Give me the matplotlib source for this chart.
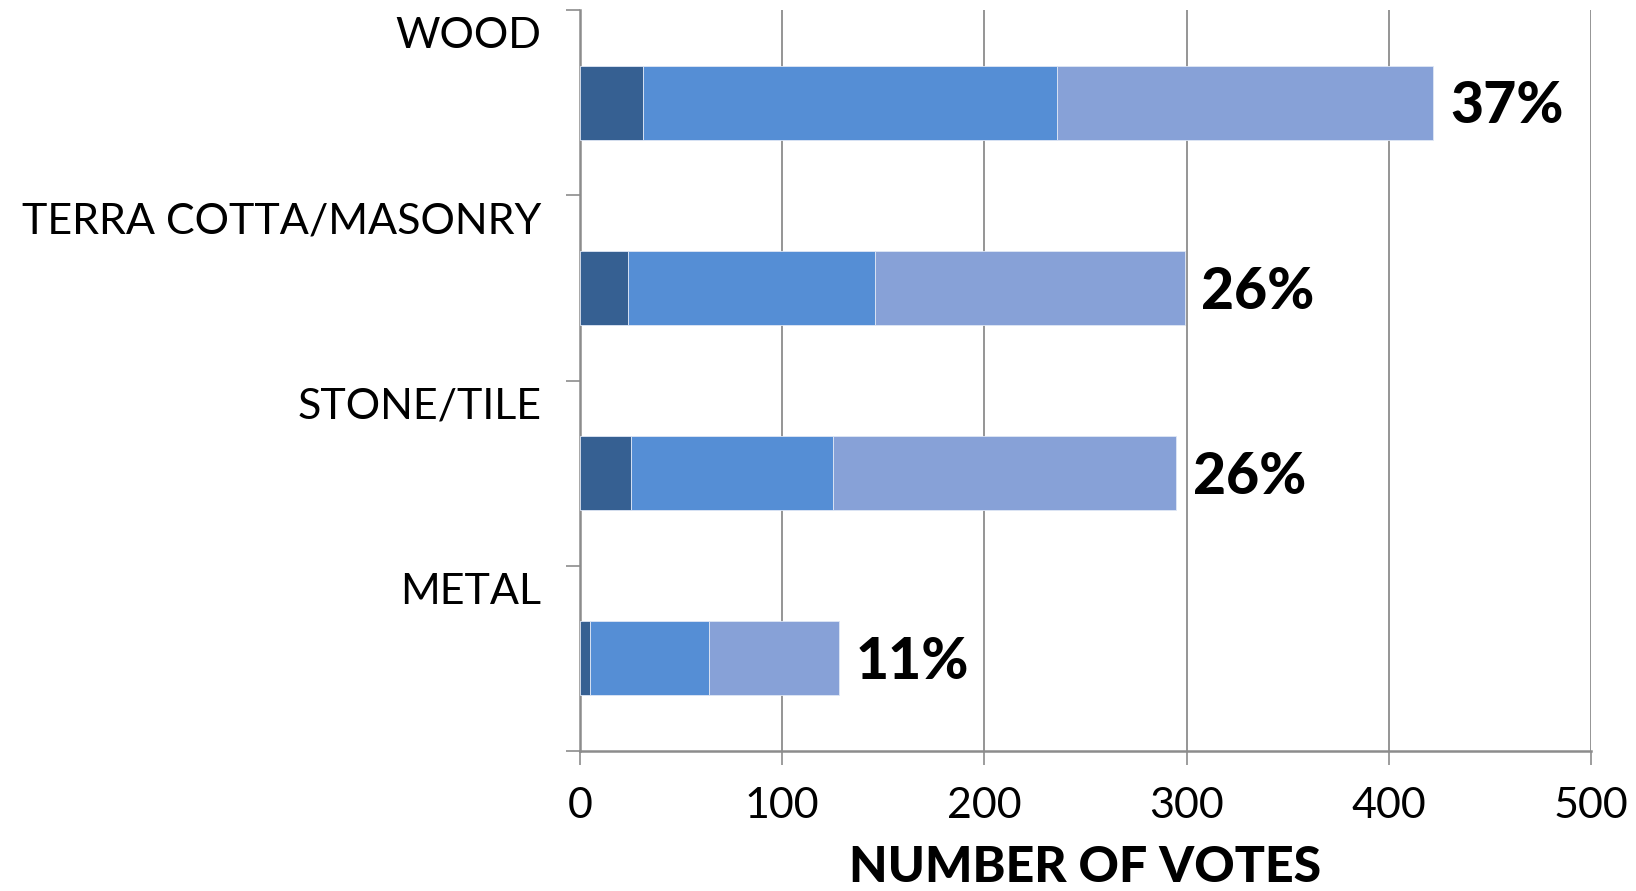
import matplotlib.pyplot as plt
import numpy as np
from matplotlib.transforms import blended_transform_factory

plt.rcParams['font.family'] = ['Lato', 'DejaVu Sans']

categories = ['WOOD', 'TERRA COTTA/MASONRY', 'STONE/TILE', 'METAL']
seg1 = np.array([31, 24, 25, 5])
seg2 = np.array([205, 122, 100, 59])
seg3 = np.array([186, 153, 170, 64])
pct_labels = ['37%', '26%', '26%', '11%']
colors = ['#366092', '#558ED5', '#87A1D7']

fig = plt.figure(figsize=(16.36, 8.91), dpi=100)
ax = fig.add_axes([0.3545, 0.1571, 0.9725 - 0.3545, 0.9888 - 0.1571])

y = np.arange(len(categories))
h = 0.4
left = np.zeros(len(categories))
for vals, c in zip([seg1, seg2, seg3], colors):
    ax.barh(y, vals, left=left, height=h, color=c, edgecolor='#dfe7f5', linewidth=0.6, zorder=3)
    left = left + vals

totals = seg1 + seg2 + seg3
for yi, t, lab in zip(y, totals, pct_labels):
    ax.annotate(lab, (t, yi), xytext=(12, -3), textcoords='offset points',
                ha='left', va='center', fontsize=41, fontweight='black')

trans = blended_transform_factory(ax.transAxes, ax.transData)
for yi, cat in zip(y, categories):
    ax.text(-0.038, yi - 0.36, cat, transform=trans, ha='right', va='center', fontsize=31)

ax.set_xlim(0, 500)
ax.set_ylim(len(categories) - 0.5, -0.5)
ax.set_xticks(np.arange(0, 501, 100))
ax.set_yticks(np.arange(-0.5, len(categories), 1.0))
ax.set_yticklabels([])
ax.tick_params(axis='x', length=10, width=1.2, color='#8c8c8c', labelsize=31, pad=16)
ax.tick_params(axis='y', length=10, width=1.2, color='#8c8c8c')
ax.xaxis.grid(True, color='#8c8c8c', linewidth=1.3, zorder=0)
ax.set_axisbelow(True)
for s in ['top', 'right']:
    ax.spines[s].set_visible(False)
for s in ['left', 'bottom']:
    ax.spines[s].set_color('#8c8c8c')
    ax.spines[s].set_linewidth(1.8)
ax.set_xlabel('NUMBER OF VOTES', fontsize=36, fontweight='black', labelpad=14)

fig.savefig('out.png', dpi=100)
